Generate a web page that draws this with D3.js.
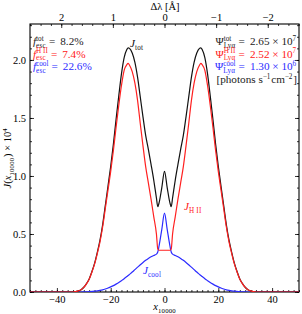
<!DOCTYPE html>
<html>
<head>
<meta charset="utf-8">
<script src="https://cdn.jsdelivr.net/npm/d3@7"></script>
<style>
  body { margin: 0; background: #fff; }
  svg { display: block; font-family: "Liberation Serif", "DejaVu Serif", serif; }
  .domain { display: none; }
</style>
</head>
<body>
<script>
// sample points of x_10000
var X = [-50,-40,-35,-34,-33,-32,-31,-30,-29,-28,-27,-26,-25,-24,-23,-22,-21,-20,-19,-18,-17,-16,-15,-14,-13.5,-13,-12,-11,-10,-9,-8,-7,-6,-5,-4,-3,-2.5,-2,-1,0,
         1,2,2.5,3,4,5,6,7,8,9,10,11,12,13,13.5,14,15,16,17,18,19,20,21,22,23,24,25,26,27,28,29,30,31,32,33,34,35,40,50];

var J_TOT = [0,0,0,0,0.004,0.01,0.02,0.041,0.072,0.113,0.175,0.247,0.34,0.444,0.579,0.746,0.914,1.084,1.275,1.488,1.69,1.88,2.02,2.09,2.105,2.10,2.06,1.98,1.85,1.68,1.51,1.35,1.23,1.10,0.965,0.81,0.735,0.77,0.90,1.04,
             0.90,0.77,0.735,0.81,0.965,1.10,1.23,1.35,1.51,1.68,1.85,1.98,2.06,2.10,2.105,2.09,2.02,1.88,1.69,1.488,1.275,1.084,0.914,0.746,0.579,0.444,0.34,0.247,0.175,0.113,0.072,0.041,0.02,0.01,0.004,0,0,0,0];

var J_HII = [0,0,0,0,0.004,0.01,0.02,0.04,0.07,0.11,0.17,0.24,0.33,0.43,0.56,0.72,0.88,1.04,1.22,1.42,1.61,1.78,1.91,1.96,1.97,1.955,1.90,1.80,1.65,1.45,1.26,1.08,0.94,0.80,0.65,0.50,0.37,0.36,0.36,0.36,
             0.36,0.36,0.37,0.50,0.65,0.80,0.94,1.08,1.26,1.45,1.65,1.80,1.90,1.955,1.97,1.96,1.91,1.78,1.61,1.42,1.22,1.04,0.88,0.72,0.56,0.43,0.33,0.24,0.17,0.11,0.07,0.04,0.02,0.01,0.004,0,0,0,0];

var J_COOL = [0,0,0,0,0,0,0,0.001,0.002,0.003,0.005,0.007,0.01,0.014,0.019,0.026,0.034,0.044,0.055,0.068,0.082,0.098,0.115,0.133,0.142,0.152,0.172,0.193,0.214,0.235,0.255,0.273,0.289,0.303,0.315,0.326,0.345,0.40,0.54,0.68,
              0.54,0.40,0.345,0.326,0.315,0.303,0.289,0.273,0.255,0.235,0.214,0.193,0.172,0.152,0.142,0.133,0.115,0.098,0.082,0.068,0.055,0.044,0.034,0.026,0.019,0.014,0.01,0.007,0.005,0.003,0.002,0.001,0,0,0,0,0,0,0];

var X_TICKS = [-40,-20,0,20,40];
var Y_TICKS = [0,0.5,1.0,1.5,2.0];
var DL_TICKS = [2,1,0,-1,-2];
var ANG_PER_X = 0.0521;   // Angstrom per unit of x_10000

var W = 302, H = 314;
// plot box (don't call it "top", window.top is read only)
var pl = 30, pr = 299, pt = 24, pb = 292;
var FS = 10.5;

var svg = d3.select('body').append('svg').attr('width', W).attr('height', H);

var x = d3.scaleLinear().domain([-50, 50]).range([pl, pr]);
var y = d3.scaleLinear().domain([0, 2.31]).range([pb, pt]);
var xt = d3.scaleLinear().domain([50*ANG_PER_X, -50*ANG_PER_X]).range([pl, pr]);

function minus(v, fmt){
	var s = fmt ? d3.format(fmt)(v) : '' + v;
	return s.replace('-', '\u2212');
}

// minor ticks first
svg.append('g').attr('transform', 'translate(0,' + pb + ')')
	.call(d3.axisBottom(x).tickValues(d3.range(-50, 51, 2)).tickSize(-2).tickFormat(''));
svg.append('g').attr('transform', 'translate(' + pl + ',0)')
	.call(d3.axisLeft(y).tickValues(d3.range(0, 2.31, 0.1)).tickSize(-2).tickFormat(''));
svg.append('g').attr('transform', 'translate(' + pr + ',0)')
	.call(d3.axisRight(y).tickValues(d3.range(0, 2.31, 0.1)).tickSize(-2).tickFormat(''));
svg.append('g').attr('transform', 'translate(0,' + pt + ')')
	.call(d3.axisTop(xt).tickValues(d3.range(-2.6, 2.61, 0.2)).tickSize(-2).tickFormat(''));

// major ticks
svg.append('g').attr('transform', 'translate(0,' + pb + ')')
	.call(d3.axisBottom(x).tickValues(X_TICKS).tickSize(-4).tickPadding(4).tickFormat(function(d){ return minus(d); }));
svg.append('g').attr('transform', 'translate(' + pl + ',0)')
	.call(d3.axisLeft(y).tickValues(Y_TICKS).tickSize(-4).tickPadding(4).tickFormat(function(d){ return minus(d, '.1f'); }));
svg.append('g').attr('transform', 'translate(' + pr + ',0)')
	.call(d3.axisRight(y).tickValues(Y_TICKS).tickSize(-4).tickFormat(''));
svg.append('g').attr('transform', 'translate(0,' + pt + ')')
	.call(d3.axisTop(xt).tickValues(DL_TICKS).tickSize(-4).tickPadding(3).tickFormat(function(d){ return minus(d); }));

svg.selectAll('.tick line').attr('stroke', '#000').attr('stroke-width', 0.8);
svg.selectAll('.tick text').attr('fill', '#000').style('font-size', FS + 'px')
	.style('font-family', '"Liberation Serif", serif');

// frame
svg.append('rect').attr('x', pl).attr('y', pt)
	.attr('width', pr - pl).attr('height', pb - pt)
	.attr('fill', 'none').attr('stroke', '#000').attr('stroke-width', 1.1);

// curves
svg.append('defs').append('clipPath').attr('id', 'clip')
	.append('rect').attr('x', pl).attr('y', pt).attr('width', pr - pl).attr('height', pb - pt);

function line(vals){
	return d3.line()
		.x(function(d, i){ return x(X[i]); })
		.y(function(d){ return y(d); })
		.curve(d3.curveMonotoneX)(vals);
}

var curves = [
	{ vals: J_COOL, color: '#2b2bff' },
	{ vals: J_TOT, color: '#111' },
	{ vals: J_HII, color: '#ff2020' }
];
svg.append('g').attr('clip-path', 'url(#clip)')
	.selectAll('path').data(curves).enter().append('path')
	.attr('d', function(d){ return line(d.vals); })
	.attr('fill', 'none')
	.attr('stroke', function(d){ return d.color; })
	.attr('stroke-width', 1.2);

// text with sub/superscripts
function mathText(px, py, parts, color, anchor, rot, size){
	var fs = size || FS;
	var ss = fs * 0.64;
	var g = svg.append('g').attr('fill', color);
	var cx = 0;
	parts.forEach(function(p){
		if(p.t){
			var t = g.append('text').attr('x', cx).attr('y', 0)
				.style('font-size', fs + 'px')
				.style('font-style', p.i ? 'italic' : 'normal')
				.text(p.t);
			cx += t.node().getComputedTextLength();
		}
		if(p.sub || p.sup){
			var w = 0;
			if(p.sup){
				var s = g.append('text').attr('x', cx).attr('y', p.sub ? -fs*0.38 : -fs*0.38)
					.style('font-size', ss + 'px').text(p.sup);
				w = Math.max(w, s.node().getComputedTextLength());
			}
			if(p.sub){
				var b = g.append('text').attr('x', cx).attr('y', fs*0.24)
					.style('font-size', ss + 'px').style('letter-spacing', '0.2px').text(p.sub);
				w = Math.max(w, b.node().getComputedTextLength());
			}
			cx += w + 0.8;
		}
	});
	var shift = 0;
	if(anchor == 'end') shift = -cx;
	if(anchor == 'middle') shift = -cx/2;
	var tr = 'translate(' + px + ',' + py + ')';
	if(rot) tr += ' rotate(' + rot + ')';
	tr += ' translate(' + shift + ',0)';
	g.attr('transform', tr);
}

var LS = 11.2;   // legend font size
var EQ = '\u2009=\u2009';

// axis labels
mathText(165, 10, [{ t: '\u0394\u03bb [\u00c5]' }], '#000', 'middle');
mathText(165, 310, [{ t: 'x', i: true, sub: '10000' }], '#000', 'middle');
mathText(11, 158, [{ t: 'J', i: true }, { t: '(' }, { t: 'x', i: true, sub: '10000' }, { t: ') \u00d7 10', sup: '4' }], '#000', 'middle', -90);

// escape fractions
mathText(33, 45, [{ t: 'f', i: true, sup: 'tot', sub: 'esc' }, { t: EQ + ' 8.2%' }], '#222', 'start', 0, LS);
mathText(33, 57.5, [{ t: 'f', i: true, sup: 'H II', sub: 'esc' }, { t: EQ + ' 7.4%' }], '#ff2020', 'start', 0, LS);
mathText(33, 70, [{ t: 'f', i: true, sup: 'cool', sub: 'esc' }, { t: EQ + ' 22.6%' }], '#2b2bff', 'start', 0, LS);

// photon rates
mathText(297, 45, [{ t: '\u03a8', sup: 'tot', sub: 'Ly\u03b1' }, { t: EQ + ' 2.65 \u00d7 10', sup: '7' }], '#222', 'end', 0, LS);
mathText(297, 57.5, [{ t: '\u03a8', sup: 'H II', sub: 'Ly\u03b1' }, { t: EQ + ' 2.52 \u00d7 10', sup: '7' }], '#ff2020', 'end', 0, LS);
mathText(297, 70, [{ t: '\u03a8', sup: 'cool', sub: 'Ly\u03b1' }, { t: EQ + ' 1.30 \u00d7 10', sup: '6' }], '#2b2bff', 'end', 0, LS);
mathText(297, 83, [{ t: '[photons s', sup: '\u22121' }, { t: ' cm', sup: '\u22122' }, { t: ']' }], '#222', 'end', 0, LS);

// curve labels
mathText(130, 47, [{ t: 'J', i: true, sub: 'tot' }], '#111', 'start', 0, LS);
mathText(184, 210, [{ t: 'J', i: true, sub: 'H II' }], '#ff2020', 'start', 0, LS);
mathText(143, 274, [{ t: 'J', i: true, sub: 'cool' }], '#2b2bff', 'start', 0, LS);
</script>
</body>
</html>
